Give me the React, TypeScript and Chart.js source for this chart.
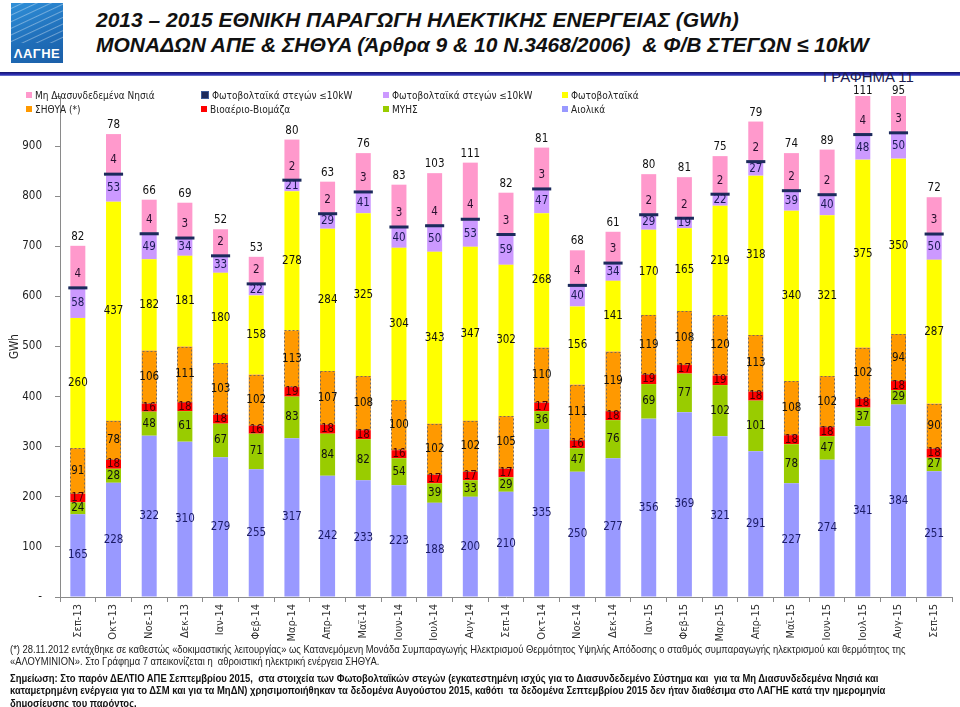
import React, { useEffect, useRef } from 'react';
import { Chart, registerables } from 'chart.js';

Chart.register(...registerables);

const months = ['Σεπ-13', 'Οκτ-13', 'Νοε-13', 'Δεκ-13', 'Ιαν-14', 'Φεβ-14', 'Μαρ-14', 'Απρ-14', 'Μαϊ-14', 'Ιουν-14', 'Ιουλ-14', 'Αυγ-14', 'Σεπ-14', 'Οκτ-14', 'Νοε-14', 'Δεκ-14', 'Ιαν-15', 'Φεβ-15', 'Μαρ-15', 'Απρ-15', 'Μαϊ-15', 'Ιουν-15', 'Ιουλ-15', 'Αυγ-15', 'Σεπ-15'];

const wind = [165, 228, 322, 310, 279, 255, 317, 242, 233, 223, 188, 200, 210, 335, 250, 277, 356, 369, 321, 291, 227, 274, 341, 384, 251];
const smallHydro = [24, 28, 48, 61, 67, 71, 83, 84, 82, 54, 39, 33, 29, 36, 47, 76, 69, 77, 102, 101, 78, 47, 37, 29, 27];
const biomass = [17, 18, 16, 18, 18, 16, 19, 18, 18, 16, 17, 17, 17, 17, 16, 18, 19, 17, 19, 18, 18, 18, 18, 18, 18];
const chp = [91, 78, 106, 111, 103, 102, 113, 107, 108, 100, 102, 102, 105, 110, 111, 119, 119, 108, 120, 113, 108, 102, 102, 94, 90];
const pv = [260, 437, 182, 181, 180, 158, 278, 284, 325, 304, 343, 347, 302, 268, 156, 141, 170, 165, 219, 318, 340, 321, 375, 350, 287];
const roofPv = [58, 53, 49, 34, 33, 22, 21, 29, 41, 40, 50, 53, 59, 47, 40, 34, 29, 19, 22, 27, 39, 40, 48, 50, 50];
const roofPvIslands = [4, 4, 4, 3, 2, 2, 2, 2, 3, 3, 4, 4, 3, 3, 4, 3, 2, 2, 2, 2, 2, 2, 4, 3, 3];
const islands = [82, 78, 66, 69, 52, 53, 80, 63, 76, 83, 103, 111, 82, 81, 68, 61, 80, 81, 75, 79, 74, 89, 111, 95, 72];

const yMin = 0;
const yMax = 1000;
const yStep = 100;

type Series = { key: string; name: string; data: number[]; color: string; text: string; kind: string };

// stacking order bottom -> top
const series: Series[] = [
  { key: 'wind', name: 'Αιολικά', data: wind, color: '#9999ff', text: '#1b1b66', kind: 'in' },
  { key: 'hydro', name: 'ΜΥΗΣ', data: smallHydro, color: '#99cc00', text: '#111111', kind: 'in' },
  { key: 'bio', name: 'Βιοαέριο-Βιομάζα', data: biomass, color: '#ff0000', text: '#4a0000', kind: 'in' },
  { key: 'chp', name: 'ΣΗΘΥΑ (*)', data: chp, color: '#ff9900', text: '#111111', kind: 'in' },
  { key: 'pv', name: 'Φωτοβολταϊκά', data: pv, color: '#ffff00', text: '#111111', kind: 'in' },
  { key: 'roof', name: 'Φωτοβολταϊκά στεγών ≤10kW', data: roofPv, color: '#cc99ff', text: '#1b1b55', kind: 'in' },
  { key: 'roofIsl', name: 'Φωτοβολταϊκά στεγών ≤10kW', data: roofPvIslands, color: '#1c2a5c', text: '#2a1030', kind: 'line' },
  { key: 'isl', name: 'Μη Διασυνδεδεμένα Νησιά', data: islands, color: '#ff99cc', text: '#111111', kind: 'top' },
];

const legendOrder = ['isl', 'roofIsl', 'roof', 'pv', 'chp', 'bio', 'hydro', 'wind'];
const legendCols = [26, 201, 383, 562];
const legendRows = [95, 109];

const FONT = "'DejaVu Sans Condensed', 'DejaVu Sans', sans-serif";
const LABEL_FONT = "11.5px " + FONT;

const labelPlugin = {
  id: 'segLabels',
  afterDatasetsDraw(chart: any) {
    const ctx = chart.ctx;
    const area = chart.chartArea;
    ctx.save();
    chart.data.datasets.forEach((ds: any, di: number) => {
      const meta = chart.getDatasetMeta(di);
      meta.data.forEach((el: any) => {
        const p = el.getProps(['x', 'y', 'base', 'width'], true);
        if (ds.kindKey === 'chp') {
          ctx.setLineDash([2, 2]);
          ctx.strokeStyle = '#7a6a5a';
          ctx.lineWidth = 1;
          ctx.strokeRect(Math.round(p.x - p.width / 2) + 0.5, Math.round(p.y) + 0.5, Math.round(p.width) - 1, Math.round(p.base - p.y) - 1);
          ctx.setLineDash([]);
        }
        if (ds.kindKey === 'roofIsl') {
          ctx.strokeStyle = ds.backgroundColor;
          ctx.lineWidth = 3;
          ctx.beginPath();
          const yy = (p.y + p.base) / 2;
          ctx.moveTo(p.x - p.width / 2 - 1, yy);
          ctx.lineTo(p.x + p.width / 2 + 1, yy);
          ctx.stroke();
        }
      });
    });
    ctx.font = LABEL_FONT;
    ctx.textAlign = 'center';
    ctx.textBaseline = 'middle';
    chart.data.datasets.forEach((ds: any, di: number) => {
      const meta = chart.getDatasetMeta(di);
      meta.data.forEach((el: any, i: number) => {
        const v = ds.data[i];
        const p = el.getProps(['x', 'y', 'base'], true);
        let ty = (p.y + p.base) / 2;
        if (ds.kind === 'top') ty = p.y < area.top ? area.top - 5 : p.y - 9;
        if (ds.kind === 'line') ty = p.y - 13;
        ctx.fillStyle = ds.textColor;
        ctx.fillText(String(v), p.x, ty);
      });
    });
    ctx.restore();
  },
};

export default function App() {
  const ref = useRef<HTMLCanvasElement | null>(null);

  useEffect(() => {
    if (!ref.current) return;
    const chart = new Chart(ref.current, {
      type: 'bar',
      data: {
        labels: months,
        datasets: series.map((s) => ({
          label: s.name,
          data: s.data,
          backgroundColor: s.color,
          borderWidth: 0,
          barPercentage: s.kind === 'line' ? 0.48 : 0.42,
          categoryPercentage: 1,
          clip: 0,
          kind: s.kind,
          kindKey: s.key,
          textColor: s.text,
        })) as any,
      },
      options: {
        responsive: false,
        animation: false,
        layout: { padding: { top: 11, right: 8, left: 0, bottom: 0 } },
        plugins: { legend: { display: false }, tooltip: { enabled: false }, title: { display: false } },
        scales: {
          x: {
            stacked: true,
            offset: true,
            grid: { offset: true, drawOnChartArea: false, tickLength: 5, color: '#8a8a8a' },
            border: { color: '#8a8a8a' },
            ticks: {
              autoSkip: false,
              minRotation: 90,
              maxRotation: 90,
              padding: 2,
              color: '#333',
              font: { family: FONT, size: 11 },
            },
            afterFit: (s: any) => { s.height = 48; },
          },
          y: {
            stacked: true,
            min: yMin,
            max: yMax,
            grid: { drawOnChartArea: false, tickLength: 5, color: '#8a8a8a' },
            border: { color: '#8a8a8a' },
            ticks: {
              stepSize: yStep,
              padding: 13,
              color: '#222',
              font: { family: FONT, size: 11.5 },
              callback: (v: any) => (v === 0 ? '-' : v === yMax ? '' : String(v)),
            },
            title: {
              display: true,
              text: 'GWh',
              color: '#222',
              padding: { top: 8, bottom: 0 },
              font: { family: FONT, size: 11.5 },
            },
            afterFit: (s: any) => { s.width = 60; s.paddingTop = 0; s.paddingBottom = 0; },
          },
        },
      },
      plugins: [labelPlugin],
    });
    return () => chart.destroy();
  }, []);

  const byKey: Record<string, Series> = {};
  series.forEach((s) => { byKey[s.key] = s; });

  const footFont = "'Liberation Sans', Arial, sans-serif";

  return (
    <div style={{ position: 'absolute', left: 0, top: 0, width: 960, height: 707, background: '#fff', overflow: 'hidden', fontFamily: "'Liberation Sans', Arial, sans-serif" }}>
      {/* logo */}
      <div style={{ position: 'absolute', left: 11, top: 3, width: 52, height: 60, background: 'linear-gradient(160deg, #2f8fd8 0%, #1f6db8 60%, #1b5fa8 100%)', overflow: 'hidden' }}>
        <div style={{ position: 'absolute', inset: 0, background: 'repeating-linear-gradient(155deg, rgba(255,255,255,0) 0px, rgba(255,255,255,0) 4px, rgba(255,255,255,0.35) 5px, rgba(255,255,255,0) 6px)', height: 40 }} />
        <div style={{ position: 'absolute', left: 0, right: 0, bottom: 2, textAlign: 'center', color: '#fff', fontWeight: 'bold', fontSize: 13, letterSpacing: 0.5 }}>ΛΑΓΗΕ</div>
      </div>
      {/* title */}
      <div style={{ position: 'absolute', left: 96, top: 8, fontSize: 20, fontWeight: 'bold', fontStyle: 'italic', color: '#111', whiteSpace: 'nowrap', lineHeight: '25px', transform: 'scaleX(1.05)', transformOrigin: 'left top' }}>
        <div>2013 – 2015 ΕΘΝΙΚΗ ΠΑΡΑΓΩΓΗ ΗΛΕΚΤΙΚΗΣ ΕΝΕΡΓΕΙΑΣ (GWh)</div>
        <div>ΜΟΝΑΔΩΝ ΑΠΕ &amp; ΣΗΘΥΑ (Άρθρα 9 &amp; 10 Ν.3468/2006)&nbsp; &amp; Φ/Β ΣΤΕΓΩΝ ≤ 10kW</div>
      </div>
      <div style={{ position: 'absolute', left: 0, top: 72, width: 960, height: 4, background: 'linear-gradient(to bottom, #14146a 0%, #2a2ab0 60%, #7a86d0 100%)' }} />
      {/* chart */}
      <div style={{ position: 'absolute', left: 0, top: 85, width: 960, height: 560 }}>
        <canvas ref={ref} width={960} height={560} style={{ width: 960, height: 560, display: 'block' }} />
      </div>
      <div style={{ position: 'absolute', left: 823, top: 68, fontSize: 15, color: '#1a1a50', whiteSpace: 'nowrap', lineHeight: '17px' }}>ΓΡΑΦΗΜΑ 11</div>
      {/* legend */}
      {legendOrder.map((k, i) => {
        const s = byKey[k];
        const col = i % 4;
        const row = Math.floor(i / 4);
        return (
          <div key={k} style={{ position: 'absolute', left: legendCols[col], top: legendRows[row] - 7, height: 14, display: 'flex', alignItems: 'center', whiteSpace: 'nowrap', fontFamily: FONT, fontSize: 10, color: '#222' }}>
            <span style={{ display: 'inline-block', width: 6, height: 6, background: s.color, marginRight: 3, border: k === 'roofIsl' ? '1px solid #3a5a9a' : 'none' }} />
            {s.name}
          </div>
        );
      })}
      {/* footnotes */}
      <div style={{ position: 'absolute', left: 10, top: 643, fontFamily: footFont, fontSize: 10.5, color: '#222', lineHeight: '12px', whiteSpace: 'nowrap', transform: 'scaleX(0.895)', transformOrigin: 'left top' }}>
        <div>(*) 28.11.2012 εντάχθηκε σε καθεστώς «δοκιμαστικής λειτουργίας» ως Κατανεμόμενη Μονάδα Συμπαραγωγής Ηλεκτρισμού Θερμότητος Υψηλής Απόδοσης ο σταθμός συμπαραγωγής ηλεκτρισμού και θερμότητος της</div>
        <div>«ΑΛΟΥΜΙΝΙΟΝ». Στο Γράφημα 7 απεικονίζεται η&nbsp; αθροιστική ηλεκτρική ενέργεια ΣΗΘΥΑ.</div>
      </div>
      <div style={{ position: 'absolute', left: 10, top: 672, fontFamily: footFont, fontSize: 10.5, fontWeight: 'bold', color: '#111', lineHeight: '12.3px', whiteSpace: 'nowrap', transform: 'scaleX(0.9)', transformOrigin: 'left top' }}>
        <div>Σημείωση: Στο παρόν ΔΕΛΤΙΟ ΑΠΕ Σεπτεμβρίου 2015,&nbsp; στα στοιχεία των Φωτοβολταϊκών στεγών (εγκατεστημένη ισχύς για το Διασυνδεδεμένο Σύστημα και&nbsp; για τα Μη Διασυνδεδεμένα Νησιά και</div>
        <div>καταμετρημένη ενέργεια για το ΔΣΜ και για τα ΜηΔΝ) χρησιμοποιήθηκαν τα δεδομένα Αυγούστου 2015, καθότι&nbsp; τα δεδομένα Σεπτεμβρίου 2015 δεν ήταν διαθέσιμα στο ΛΑΓΗΕ κατά την ημερομηνία</div>
        <div>δημοσίευσης του παρόντος.</div>
      </div>
    </div>
  );
}
